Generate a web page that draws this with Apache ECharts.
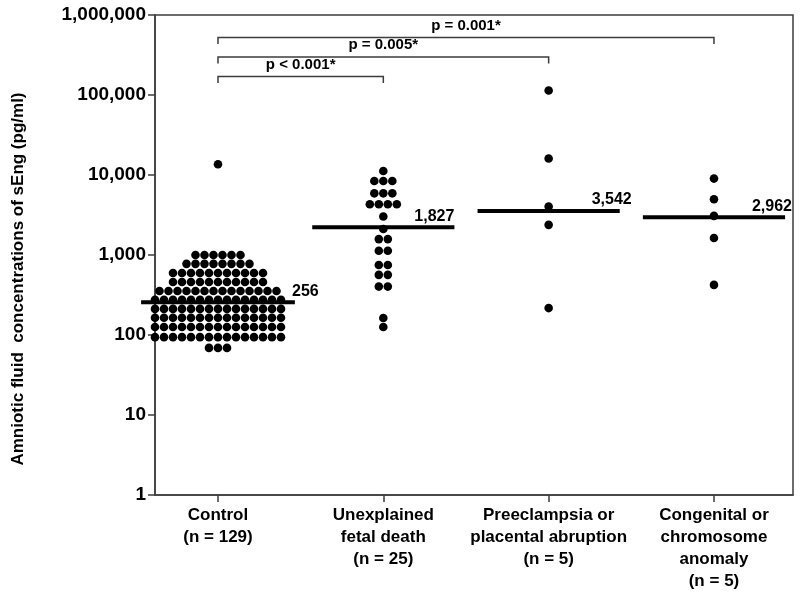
<!DOCTYPE html>
<html><head><meta charset="utf-8">
<script src="https://cdn.jsdelivr.net/npm/echarts@6/dist/echarts.min.js"></script>
<style>html,body{margin:0;padding:0;background:#fff}#c{width:800px;height:592px}</style>
</head><body><div id="c"></div>
<script>
// ---------- data ----------
const categories = [
  'Control\n(n = 129)',
  'Unexplained\nfetal death\n(n = 25)',
  'Preeclampsia or\nplacental abruption\n(n = 5)',
  'Congenital or\nchromosome\nanomaly\n(n = 5)'
];
const controlValues = [
  13600,
  1000,1000,1000,1000,1000,1000,
  775,775,775,775,775,775,775,775,
  595,595,595,595,595,595,595,595,595,595,595,
  460,460,460,460,460,460,460,460,460,460,460,
  355,355,355,355,355,355,355,355,355,355,355,355,355,355,
  275,275,275,275,275,275,275,275,275,275,275,275,275,275,275,
  212,212,212,212,212,212,212,212,212,212,212,212,212,212,212,
  164,164,164,164,164,164,164,164,164,164,164,164,164,164,164,
  126,126,126,126,126,126,126,126,126,126,126,126,126,126,126,
  94,94,94,94,94,94,94,94,94,94,94,94,94,94,94,
  69,69,69
];
const fetalDeathValues = [
  11200,
  8400,8400,8400,
  5900,5900,5900,
  4300,4300,4300,4300,
  3030,
  2110,
  1580,1580,
  1130,1130,
  750,750,
  565,565,
  403,403,
  163,
  126
];
const preeclampsiaValues = [114000, 16100, 4040, 2380, 217];
const congenitalValues = [9020, 4980, 3085, 1630, 423];
const medianLineValues = [256, 2230, 3542, 2962];
const medianLabels = ['256', '1,827', '3,542', '2,962'];
const comparisonTargets = [2, 3, 4];
const comparisonLabels = ['p < 0.001*', 'p = 0.005*', 'p = 0.001*'];
const yTicks = [1, 10, 100, 1000, 10000, 100000, 1000000];

// ---------- layout / style ----------
const FONT = '"Liberation Sans", Arial, Helvetica, sans-serif';
const DOT_SPACING = 9;
const AXIS_COLOR = '#3c3c3c';
const groups = [controlValues, fetalDeathValues, preeclampsiaValues, congenitalValues];

function swarm(values, gi) {
  const counts = {};
  values.forEach(v => { counts[v] = (counts[v] || 0) + 1; });
  const seen = {};
  return values.map(v => {
    seen[v] = seen[v] === undefined ? 0 : seen[v] + 1;
    const n = counts[v];
    return { value: [gi, v], symbolOffset: [(seen[v] - (n - 1) / 2) * DOT_SPACING, 0] };
  });
}

const scatterSeries = groups.map((vals, i) => ({
  type: 'scatter',
  data: swarm(vals, i + 1),
  symbol: 'circle',
  symbolSize: 8.6,
  itemStyle: { color: '#000', opacity: 1 },
  z: 2
}));

const labelDx = [74, 31, 43, 38];
const medianSeries = {
  type: 'custom',
  z: 5,
  data: medianLineValues.map((v, i) => [i + 1, v]),
  renderItem: function (params, api) {
    const idx = params.dataIndex;
    const gi = api.value(0), v = api.value(1);
    const hw = idx === 0 ? 0.465 : 0.43;
    const p1 = api.coord([gi - hw, v]);
    const p2 = api.coord([gi + hw, v]);
    const c = api.coord([gi, v]);
    return {
      type: 'group',
      children: [
        { type: 'line', shape: { x1: p1[0], y1: p1[1], x2: p2[0], y2: p2[1] },
          style: { stroke: '#000', lineWidth: 4 } },
        { type: 'text', style: { text: medianLabels[idx], x: c[0] + labelDx[idx], y: p1[1] - 11,
          align: 'left', verticalAlign: 'middle', font: 'bold 16px ' + FONT, fill: '#000' } }
      ]
    };
  }
};

const bracketY = [76.5, 57, 37.5];
const bracketSeries = {
  type: 'custom',
  z: 5,
  data: comparisonTargets.map((t, i) => [1, t, i]),
  renderItem: function (params, api) {
    const idx = params.dataIndex;
    const a = api.coord([api.value(0), 1])[0];
    const b = api.coord([api.value(1), 1])[0];
    const y = bracketY[idx];
    return {
      type: 'group',
      children: [
        { type: 'polyline', shape: { points: [[a, y + 6.5], [a, y], [b, y], [b, y + 6.5]] },
          style: { stroke: AXIS_COLOR, lineWidth: 1.5, fill: null } },
        { type: 'text', style: { text: comparisonLabels[idx], x: (a + b) / 2, y: y - 12,
          align: 'center', verticalAlign: 'middle', font: 'bold 15px ' + FONT, fill: '#000' } }
      ]
    };
  }
};

const chart = echarts.init(document.getElementById('c'), null, { renderer: 'canvas' });
chart.setOption({
  animation: false,
  backgroundColor: '#fff',
  grid: { left: 155, right: 7, top: 15, bottom: 95, show: true, borderColor: AXIS_COLOR, borderWidth: 1.5 },
  xAxis: {
    type: 'value', min: 0.619, max: 4.478,
    splitLine: { show: false },
    axisLine: { show: true, lineStyle: { color: AXIS_COLOR, width: 1.5 } },
    axisTick: { show: true, customValues: [1, 2, 3, 4], length: 7, lineStyle: { color: AXIS_COLOR, width: 1.5 } },
    axisLabel: {
      customValues: [1, 2, 3, 4],
      formatter: v => categories[Math.round(v) - 1],
      color: '#000', fontFamily: FONT, fontWeight: 'bold', fontSize: 17, lineHeight: 22, margin: 9
    }
  },
  yAxis: {
    type: 'log', logBase: 10, min: 1, max: 1000000,
    splitLine: { show: false },
    axisLine: { show: true, lineStyle: { color: AXIS_COLOR, width: 1.5 } },
    axisTick: { show: true, length: 7, lineStyle: { color: AXIS_COLOR, width: 1.5 } },
    axisLabel: {
      showMinLabel: true, showMaxLabel: true,
      formatter: v => {
        const t = yTicks.find(x => Math.abs(x - v) / x < 1e-6);
        return (t !== undefined ? t : Math.round(v)).toLocaleString('en-US');
      },
      color: '#000', fontFamily: FONT, fontWeight: 'bold', fontSize: 19, margin: 9
    }
  },
  graphic: [{
    type: 'text', x: 18, y: 279, rotation: Math.PI / 2,
    style: { text: 'Amniotic fluid  concentrations of sEng (pg/ml)', align: 'center', verticalAlign: 'middle',
      font: 'bold 17px ' + FONT, fill: '#000' }
  }],
  series: scatterSeries.concat([medianSeries, bracketSeries])
});
</script></body></html>
